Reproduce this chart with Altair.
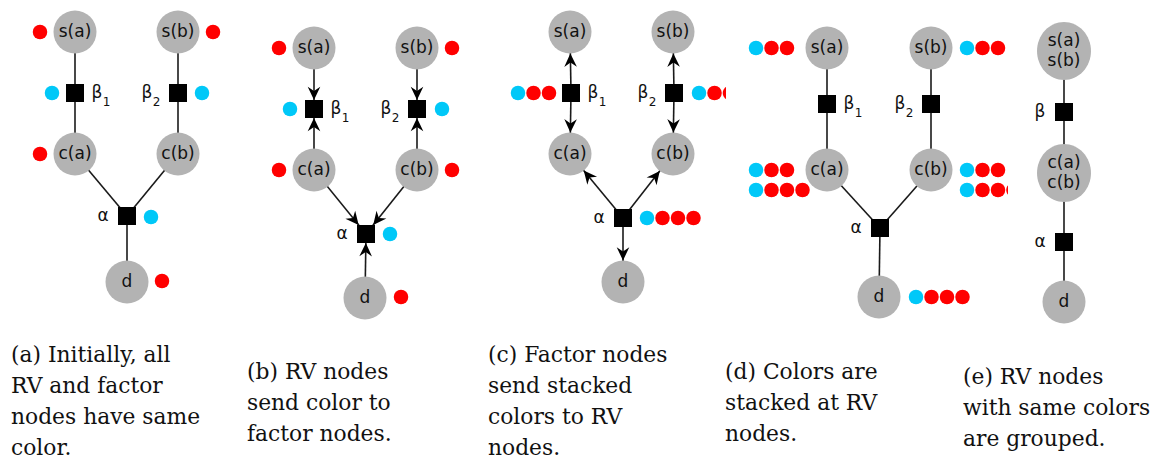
import math
import altair as alt
import pandas as pd

# ---------------- data (page pixel coordinates) ----------------
PANELS = ["a", "b", "c", "d", "e"]
PANEL_RIGHT = {"a": 244, "b": 484, "c": 726, "d": 1008, "e": 1161}

RV = {
    "a": {"s(a)": (75, 32), "s(b)": (178, 32), "c(a)": (75, 154), "c(b)": (178, 154), "d": (127, 282)},
    "b": {"s(a)": (314, 48), "s(b)": (417, 48), "c(a)": (314, 170), "c(b)": (417, 170), "d": (365, 298)},
    "c": {"s(a)": (570, 32), "s(b)": (673, 32), "c(a)": (570, 154), "c(b)": (673, 154), "d": (623, 282)},
    "d": {"s(a)": (827, 48), "s(b)": (931, 48), "c(a)": (827, 170), "c(b)": (931, 170), "d": (879, 297)},
    "e": {"s(a)\ns(b)": (1064, 51), "c(a)\nc(b)": (1064, 173), "d": (1064, 302)},
}
FAC = {
    "a": {"β1": (75, 93), "β2": (178, 93), "α": (127, 216)},
    "b": {"β1": (314, 109), "β2": (417, 109), "α": (366, 234)},
    "c": {"β1": (571, 93), "β2": (674, 93), "α": (623, 218)},
    "d": {"β1": (827, 104), "β2": (931, 104), "α": (880, 228)},
    "e": {"β": (1064, 112), "α": (1064, 242)},
}
GROUPED = ["s(a)\ns(b)", "c(a)\nc(b)"]

EDGES_STD = [("s(a)", "β1"), ("β1", "c(a)"), ("s(b)", "β2"), ("β2", "c(b)"),
             ("c(a)", "α"), ("c(b)", "α"), ("α", "d")]
EDGES_E = [("s(a)\ns(b)", "β"), ("β", "c(a)\nc(b)"), ("c(a)\nc(b)", "α"), ("α", "d")]
EDGES = {"a": EDGES_STD, "b": EDGES_STD, "c": EDGES_STD, "d": EDGES_STD, "e": EDGES_E}

ARROWS = {
    "b": [("s(a)", "β1"), ("c(a)", "β1"), ("s(b)", "β2"), ("c(b)", "β2"),
          ("c(a)", "α"), ("c(b)", "α"), ("d", "α")],
    "c": [("β1", "s(a)"), ("β1", "c(a)"), ("β2", "s(b)"), ("β2", "c(b)"),
          ("α", "c(a)"), ("α", "c(b)"), ("α", "d")],
}

# factor labels: (main glyph, subscript, x offset from the square)
FACTOR_LABEL = {"β1": ("β", "1", 22), "β2": ("β", "2", -31), "α": ("α", "", -24), "β": ("β", "", -24)}

# colour stacks: (panel, first dot x, y, colour codes)
DOT_STACKS = [
    ("a", 40, 32, "R"), ("a", 213, 32, "R"), ("a", 52, 93, "C"), ("a", 202, 93, "C"),
    ("a", 40, 154, "R"), ("a", 151, 217, "C"), ("a", 162, 281, "R"),
    ("b", 279, 48, "R"), ("b", 452, 48, "R"), ("b", 290, 109, "C"), ("b", 442, 109, "C"),
    ("b", 279, 170, "R"), ("b", 452, 170, "R"), ("b", 390, 234, "C"), ("b", 401, 297, "R"),
    ("c", 518, 93, "CRR"), ("c", 699, 93, "CRR"), ("c", 647, 218, "CRRR"),
    ("d", 756, 48, "CRR"), ("d", 967, 48, "CRR"), ("d", 756, 170, "CRR"), ("d", 756, 190, "CRRR"),
    ("d", 967, 170, "CRR"), ("d", 967, 190, "CRRR"), ("d", 916, 297, "CRRR"),
]
COLORS = {"C": "#00c8f8", "R": "#ff0000"}

CAPTIONS = [
    (11, 362, ["(a) Initially, all", "RV and factor", "nodes have same", "color."]),
    (247, 379, ["(b) RV nodes", "send color to", "factor nodes."]),
    (488, 362, ["(c) Factor nodes", "send stacked", "colors to RV", "nodes."]),
    (725, 379, ["(d) Colors are", "stacked at RV", "nodes."]),
    (963, 384, ["(e) RV nodes", "with same colors", "are grouped."]),
]

# ---------------- styles ----------------
NODE_R = 21.5
SQ = 18
ARROW_S = 14
DOT_D = 14.5
DOT_STEP = 15.5
LINE_H = 31.0
GREY = "#b3b3b3"
ARROW_PATH = "M0,1L-0.9,-0.9L0,-0.3L0.9,-0.9Z"
SERIF = "DejaVu Serif"
SANS = "DejaVu Sans"


def poly(points):
    return "M" + "L".join(f"{x:.3f},{y:.3f}" for x, y in points) + "Z"


ELLIPSE_S = 58
ELLIPSE_PATH = poly([(0.93 * math.cos(2 * math.pi * k / 64), math.sin(2 * math.pi * k / 64)) for k in range(64)])


def partial_circle(c):
    t0 = math.acos(c)
    n = 40
    pts = [(math.cos(t0 + (2 * math.pi - 2 * t0) * k / n), math.sin(t0 + (2 * math.pi - 2 * t0) * k / n))
           for k in range(n + 1)]
    return poly(pts)


def pos(p, name):
    return RV[p][name] if name in RV[p] else FAC[p][name]


# ---------------- tables ----------------
edge_rows = []
for p in PANELS:
    for u, v in EDGES[p]:
        (x, y), (x2, y2) = pos(p, u), pos(p, v)
        edge_rows.append({"x": x, "y": y, "x2": x2, "y2": y2})
edges = pd.DataFrame(edge_rows)

arrow_rows = []
for p, lst in ARROWS.items():
    for src, dst in lst:
        sx, sy = pos(p, src)
        tx0, ty0 = pos(p, dst)
        vx, vy = sx - tx0, sy - ty0
        L = math.hypot(vx, vy)
        if dst in FAC[p]:
            s = (SQ / 2) / max(abs(vx), abs(vy))
            tx, ty = tx0 + vx * s, ty0 + vy * s
        else:
            tx, ty = tx0 + vx / L * NODE_R, ty0 + vy / L * NODE_R
        ux, uy = -vx / L, -vy / L
        ang = math.degrees(math.atan2(-ux, uy)) % 360
        arrow_rows.append({"x": tx - ux * ARROW_S / 2, "y": ty - uy * ARROW_S / 2, "angle": ang})
arrows = pd.DataFrame(arrow_rows)

circ_rows, ell_rows, sq_rows, txt_rows, greek_rows, sub_rows = [], [], [], [], [], []
for p in PANELS:
    for name, (x, y) in RV[p].items():
        (ell_rows if name in GROUPED else circ_rows).append({"x": x, "y": y})
        lines = name.split("\n")
        for i, line in enumerate(lines):
            txt_rows.append({"x": x, "y": y + (i - (len(lines) - 1) / 2) * 20, "t": line})
    for name, (x, y) in FAC[p].items():
        sq_rows.append({"x": x, "y": y})
        main, sub, off = FACTOR_LABEL[name]
        greek_rows.append({"x": x + off, "y": y, "t": main})
        if sub:
            sub_rows.append({"x": x + off + 9.5, "y": y + 9, "t": sub})
circles = pd.DataFrame(circ_rows)
ellipses = pd.DataFrame(ell_rows)
squares = pd.DataFrame(sq_rows)
node_txt = pd.DataFrame(txt_rows)
greek_txt = pd.DataFrame(greek_rows)
sub_txt = pd.DataFrame(sub_rows)

dot_rows = []
for p, x0, y, codes in DOT_STACKS:
    right = PANEL_RIGHT[p]
    for i, code in enumerate(codes):
        cx = x0 + i * DOT_STEP
        r = DOT_D / 2
        if cx - r >= right:
            continue
        shape = "circle" if cx + r <= right else partial_circle((right - cx) / r)
        dot_rows.append({"x": cx, "y": y, "c": COLORS[code], "shape": shape})
dots = pd.DataFrame(dot_rows)

cap_rows = []
for x, y0, lines in CAPTIONS:
    for i, line in enumerate(lines):
        cap_rows.append({"x": x, "y": y0 + i * LINE_H, "t": line})
caps = pd.DataFrame(cap_rows)

# ---------------- chart ----------------
W, H = 1145, 453
XS = alt.Scale(domain=[8, 8 + W], nice=False, zero=False)
YS = alt.Scale(domain=[8, 8 + H], nice=False, zero=False, reverse=True)


def xy():
    return dict(x=alt.X("x:Q", scale=XS, axis=None), y=alt.Y("y:Q", scale=YS, axis=None))


edge_layer = alt.Chart(edges).mark_rule(color="#1a1a1a", strokeWidth=1.6).encode(
    **xy(), x2="x2:Q", y2="y2:Q")
circle_layer = alt.Chart(circles).mark_circle(color=GREY, opacity=1, size=(2 * NODE_R) ** 2).encode(**xy())
ellipse_layer = alt.Chart(ellipses).mark_point(shape=ELLIPSE_PATH, filled=True, color=GREY, opacity=1,
                                               size=ELLIPSE_S ** 2, strokeWidth=0).encode(**xy())
square_layer = alt.Chart(squares).mark_square(color="black", opacity=1, size=SQ ** 2).encode(**xy())
arrow_layer = alt.Chart(arrows).mark_point(shape=ARROW_PATH, filled=True, color="black", opacity=1,
                                           size=ARROW_S ** 2, strokeWidth=0).encode(
    **xy(), angle=alt.Angle("angle:Q", scale=None))
node_text = alt.Chart(node_txt).mark_text(font=SANS, fontSize=17, color="#111",
                                          align="center", baseline="middle").encode(**xy(), text="t:N")
greek_text = alt.Chart(greek_txt).mark_text(font=SANS, fontSize=17, color="#111",
                                            align="center", baseline="middle").encode(**xy(), text="t:N")
sub_text = alt.Chart(sub_txt).mark_text(font=SANS, fontSize=12, color="#111",
                                        align="center", baseline="middle").encode(**xy(), text="t:N")
dot_layer = alt.Chart(dots).mark_point(filled=True, opacity=1, size=DOT_D ** 2, strokeWidth=0).encode(
    **xy(), color=alt.Color("c:N", scale=None), shape=alt.Shape("shape:N", scale=None))
cap_layer = alt.Chart(caps).mark_text(font=SERIF, fontSize=21.8, color="#111",
                                      align="left", baseline="alphabetic").encode(**xy(), text="t:N")

chart = alt.layer(edge_layer, circle_layer, ellipse_layer, square_layer, arrow_layer,
                  node_text, greek_text, sub_text, dot_layer, cap_layer).properties(
    width=W, height=H, padding=0, autosize=alt.AutoSizeParams(type="none")
).configure_view(strokeWidth=0)

chart.save("out.html", embed_options={"renderer": "svg", "actions": False})
